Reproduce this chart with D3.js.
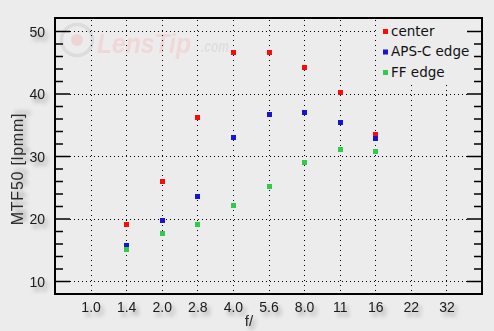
<!DOCTYPE html>
<html>
<head>
<meta charset="utf-8">
<script src="https://cdn.jsdelivr.net/npm/d3@7"></script>
<style>
  body { margin: 0; background: #ececec; }
  svg { display: block; }
</style>
</head>
<body>
<svg id="chart" width="494" height="331"></svg>
<script>
// categories / tick labels
const apertures = ["1.0", "1.4", "2.0", "2.8", "4.0", "5.6", "8.0", "11", "16", "22", "32"];
const measured = ["1.4", "2.0", "2.8", "4.0", "5.6", "8.0", "11", "16"];
const majorTicks = [10, 20, 30, 40, 50];
const minorTicks = [12, 14, 16, 18, 22, 24, 26, 28, 32, 34, 36, 38, 42, 44, 46, 48];

// series values (MTF50, lpmm)
const center = [19.2, 26.0, 36.3, 46.7, 46.7, 44.3, 40.2, 33.6];
const apscEdge = [15.8, 19.8, 23.6, 33.0, 36.8, 37.1, 35.5, 32.9];
const ffEdge = [15.1, 17.6, 19.1, 22.1, 25.2, 29.1, 31.1, 30.8];

const seriesNames = ["center", "APS-C edge", "FF edge"];
const seriesColors = ["#fa0a0a", "#1616d2", "#2ecc48"];

const svg = d3.select("#chart");
const plotL = 55, plotR = 482, plotT = 18, plotB = 294;

const x = d3.scalePoint().domain(apertures).range([plotL, plotR]).padding(1);
const y = d3.scaleLinear().domain([7.92, 52.08]).range([plotB, plotT]);

// drop shadow for the labels
const defs = svg.append("defs");
const f = defs.append("filter").attr("id", "shadow")
  .attr("x", "-30%").attr("y", "-30%").attr("width", "180%").attr("height", "180%");
f.append("feGaussianBlur").attr("in", "SourceAlpha").attr("stdDeviation", 2.2).attr("result", "b");
f.append("feOffset").attr("in", "b").attr("dx", 3).attr("dy", 4).attr("result", "o");
f.append("feComponentTransfer").attr("in", "o").attr("result", "s")
  .append("feFuncA").attr("type", "linear").attr("slope", 0.35);
const m = f.append("feMerge");
m.append("feMergeNode").attr("in", "s");
m.append("feMergeNode").attr("in", "SourceGraphic");

svg.append("rect").attr("width", 494).attr("height", 331).attr("fill", "#ececec");

// watermark
const wm = svg.append("g").attr("opacity", 0.55);
wm.append("circle").attr("cx", 77).attr("cy", 40).attr("r", 15.5)
  .attr("fill", "none").attr("stroke", "#cfcfcf").attr("stroke-width", 3.5);
wm.append("circle").attr("cx", 77).attr("cy", 40).attr("r", 6).attr("fill", "#f0c4c4");
wm.append("text").attr("x", 97).attr("y", 53)
  .attr("font-family", "Liberation Sans, Arial, sans-serif")
  .attr("font-weight", "bold").attr("font-style", "italic")
  .attr("font-size", 28).attr("fill", "#f2c9c9")
  .attr("textLength", 94).attr("lengthAdjust", "spacingAndGlyphs")
  .text("LensTip");
wm.append("text").attr("x", 201).attr("y", 52)
  .attr("font-family", "Liberation Sans, Arial, sans-serif")
  .attr("font-weight", "bold").attr("font-style", "italic")
  .attr("font-size", 16).attr("fill", "#d4d4d4")
  .attr("textLength", 28).attr("lengthAdjust", "spacingAndGlyphs")
  .text(".com");

// grid
svg.append("g")
  .selectAll("line")
  .data(majorTicks)
  .enter()
  .append("line")
  .attr("x1", plotL + 15).attr("x2", plotR - 15)
  .attr("y1", (d) => Math.round(y(d)) + 0.5).attr("y2", (d) => Math.round(y(d)) + 0.5)
  .attr("stroke", "#000").attr("stroke-width", 1).attr("stroke-dasharray", "1,3");

svg.append("g")
  .selectAll("line")
  .data(apertures)
  .enter()
  .append("line")
  .attr("x1", (d) => Math.round(x(d)) + 0.5).attr("x2", (d) => Math.round(x(d)) + 0.5)
  .attr("y1", plotT + 2).attr("y2", plotB - 2)
  .attr("stroke", "#000").attr("stroke-width", 1).attr("stroke-dasharray", "1,4");

// legend background hides grid behind it
svg.append("rect").attr("x", 378).attr("y", plotT + 1).attr("width", 103).attr("height", 66)
  .attr("fill", "#ececec");

// axes
const fontFam = "Liberation Sans, Arial, sans-serif";
const leftMajor = svg.append("g").attr("transform", `translate(${plotL},0)`)
  .call(d3.axisLeft(y).tickValues(majorTicks).tickSize(-15).tickPadding(10));
const leftMinor = svg.append("g").attr("transform", `translate(${plotL},0)`)
  .call(d3.axisLeft(y).tickValues(minorTicks).tickSize(-8).tickFormat(""));
const rightMajor = svg.append("g").attr("transform", `translate(${plotR},0)`)
  .call(d3.axisRight(y).tickValues(majorTicks).tickSize(-15).tickFormat(""));
const rightMinor = svg.append("g").attr("transform", `translate(${plotR},0)`)
  .call(d3.axisRight(y).tickValues(minorTicks).tickSize(-8).tickFormat(""));
const bottomAxis = svg.append("g").attr("transform", `translate(0,${plotB})`)
  .call(d3.axisBottom(x).tickSize(0).tickPadding(8));

[leftMajor, leftMinor, rightMajor, rightMinor, bottomAxis].forEach((g) => {
  g.select(".domain").remove();
  g.selectAll("line").attr("stroke", "#000").attr("stroke-width", 1.5);
  g.selectAll("text")
    .attr("font-family", fontFam)
    .attr("font-size", 14)
    .attr("fill", "#1a1a1a")
    .attr("filter", "url(#shadow)");
});
leftMajor.selectAll("text").attr("dy", "0.36em");

// frame
svg.append("rect").attr("x", plotL).attr("y", plotT)
  .attr("width", plotR - plotL).attr("height", plotB - plotT)
  .attr("fill", "none").attr("stroke", "#000").attr("stroke-width", 2);

// axis titles
svg.append("text")
  .attr("transform", `translate(23,169) rotate(-90)`)
  .attr("text-anchor", "middle")
  .attr("font-family", fontFam).attr("font-size", 16).attr("letter-spacing", 0.8)
  .attr("fill", "#2a2a2a").attr("filter", "url(#shadow)")
  .text("MTF50 [lpmm]");
svg.append("text")
  .attr("x", 249).attr("y", 326).attr("text-anchor", "middle")
  .attr("font-family", fontFam).attr("font-size", 15)
  .attr("fill", "#2a2a2a").attr("filter", "url(#shadow)")
  .text("f/");

// points
const series = [center, apscEdge, ffEdge];
series.forEach((vals, i) => {
  svg.append("g")
    .attr("fill", seriesColors[i])
    .selectAll("rect")
    .data(vals)
    .enter()
    .append("rect")
    .attr("x", (d, j) => Math.round(x(measured[j])) - 2)
    .attr("y", (d) => Math.round(y(d)) - 2)
    .attr("width", 5)
    .attr("height", 5);
});

// legend
const legend = svg.append("g")
  .selectAll("g")
  .data(seriesNames)
  .enter()
  .append("g")
  .attr("transform", (d, i) => `translate(383,${31 + i * 20.5})`);
legend.append("rect")
  .attr("x", 0).attr("y", -2).attr("width", 5).attr("height", 5)
  .attr("fill", (d, i) => seriesColors[i]);
legend.append("text")
  .attr("x", 8).attr("y", 0).attr("dy", "0.35em")
  .attr("font-family", "DejaVu Sans, sans-serif").attr("font-size", 13.5)
  .attr("fill", "#111")
  .text((d) => d);
</script>
</body>
</html>
